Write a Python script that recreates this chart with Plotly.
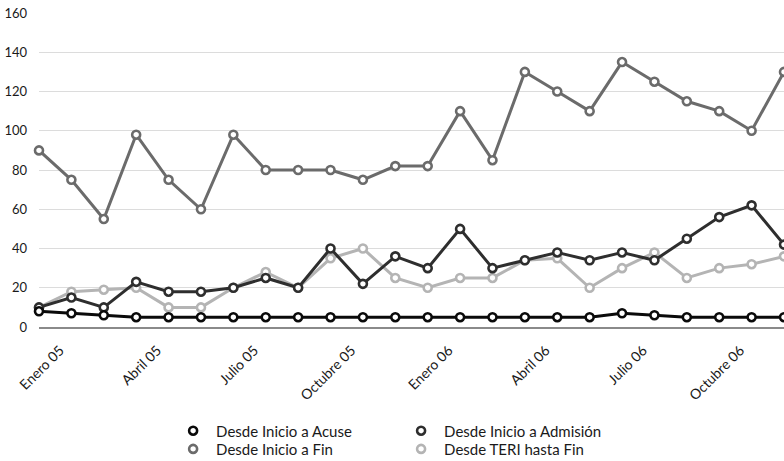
import plotly.graph_objects as go

months = [
    "Enero 05", "Febrero 05", "Marzo 05", "Abril 05", "Mayo 05", "Junio 05",
    "Julio 05", "Agosto 05", "Septiembre 05", "Octubre 05", "Noviembre 05", "Diciembre 05",
    "Enero 06", "Febrero 06", "Marzo 06", "Abril 06", "Mayo 06", "Junio 06",
    "Julio 06", "Agosto 06", "Septiembre 06", "Octubre 06", "Noviembre 06", "Diciembre 06",
]
tick_labels = ["Enero 05", "Abril 05", "Julio 05", "Octubre 05",
               "Enero 06", "Abril 06", "Julio 06", "Octubre 06"]

inicio_acuse = [8, 7, 6, 5, 5, 5, 5, 5, 5, 5, 5, 5, 5, 5, 5, 5, 5, 5, 7, 6, 5, 5, 5, 5]
inicio_admision = [10, 15, 10, 23, 18, 18, 20, 25, 20, 40, 22, 36, 30, 50, 30, 34, 38, 34, 38, 34, 45, 56, 62, 42]
inicio_fin = [90, 75, 55, 98, 75, 60, 98, 80, 80, 80, 75, 82, 82, 110, 85, 130, 120, 110, 135, 125, 115, 110, 100, 130]
teri_fin = [10, 18, 19, 20, 10, 10, 20, 28, 20, 35, 40, 25, 20, 25, 25, 34, 35, 20, 30, 38, 25, 30, 32, 36]

# name, values, colour, legend slot (2 x 2 grid below the chart)
series = [
    ("Desde Inicio a Acuse", inicio_acuse, "#0a0a0a", "legend"),
    ("Desde Inicio a Admisión", inicio_admision, "#2e2e2e", "legend2"),
    ("Desde Inicio a Fin", inicio_fin, "#6b6b6b", "legend3"),
    ("Desde TERI hasta Fin", teri_fin, "#b4b4b4", "legend4"),
]
draw_order = [2, 3, 1, 0]

FONT = "Lato, 'Open Sans', sans-serif"

fig = go.Figure()
for i in draw_order:
    name, vals, color, _ = series[i]
    fig.add_trace(go.Scatter(
        x=months, y=vals, name=name, mode="lines+markers",
        line=dict(color=color, width=3),
        marker=dict(symbol="circle", size=8, color="white",
                    line=dict(color=color, width=2.6)),
        cliponaxis=False, showlegend=False,
    ))

# legend entries show the marker only
for name, _, color, leg in series:
    fig.add_trace(go.Scatter(
        x=[None], y=[None], name=name, mode="markers", legend=leg,
        marker=dict(symbol="circle", size=8, color="white",
                    line=dict(color=color, width=2.6)),
    ))

legend_style = dict(yanchor="middle", xanchor="left", orientation="v",
                    itemwidth=36, tracegroupgap=0,
                    font=dict(family=FONT, size=15, color="#1a1a1a"),
                    bgcolor="rgba(0,0,0,0)")

col_x = [0.176, 0.482]
row_y = [-0.331, -0.389]

fig.update_layout(
    width=784, height=461,
    margin=dict(l=39, r=0, t=13, b=134, autoexpand=False),
    paper_bgcolor="white", plot_bgcolor="white",
    font=dict(family=FONT, size=13, color="#1a1a1a"),
    legend=dict(x=col_x[0], y=row_y[0], **legend_style),
    legend2=dict(x=col_x[1], y=row_y[0], **legend_style),
    legend3=dict(x=col_x[0], y=row_y[1], **legend_style),
    legend4=dict(x=col_x[1], y=row_y[1], **legend_style),
    xaxis=dict(
        type="category", categoryorder="array", categoryarray=months,
        range=[0, 23], tickmode="array", tickvals=tick_labels, ticktext=tick_labels,
        tickangle=-45, ticklabelshift=21, ticklabelstandoff=8,
        showgrid=False, zeroline=False, automargin=False,
        showline=True, linecolor="#8a8a8a", linewidth=1.5,
        ticks="", tickfont=dict(family=FONT, size=14, color="#1a1a1a"),
    ),
    yaxis=dict(
        range=[0, 160], dtick=20, tick0=0, automargin=False,
        showgrid=True, gridcolor="#dcdcdc", gridwidth=1,
        zeroline=False, showline=False, ticks="",
        ticklabelstandoff=11,
        tickfont=dict(family=FONT, size=13, color="#1a1a1a"),
    ),
)

fig.write_html("out.html")
